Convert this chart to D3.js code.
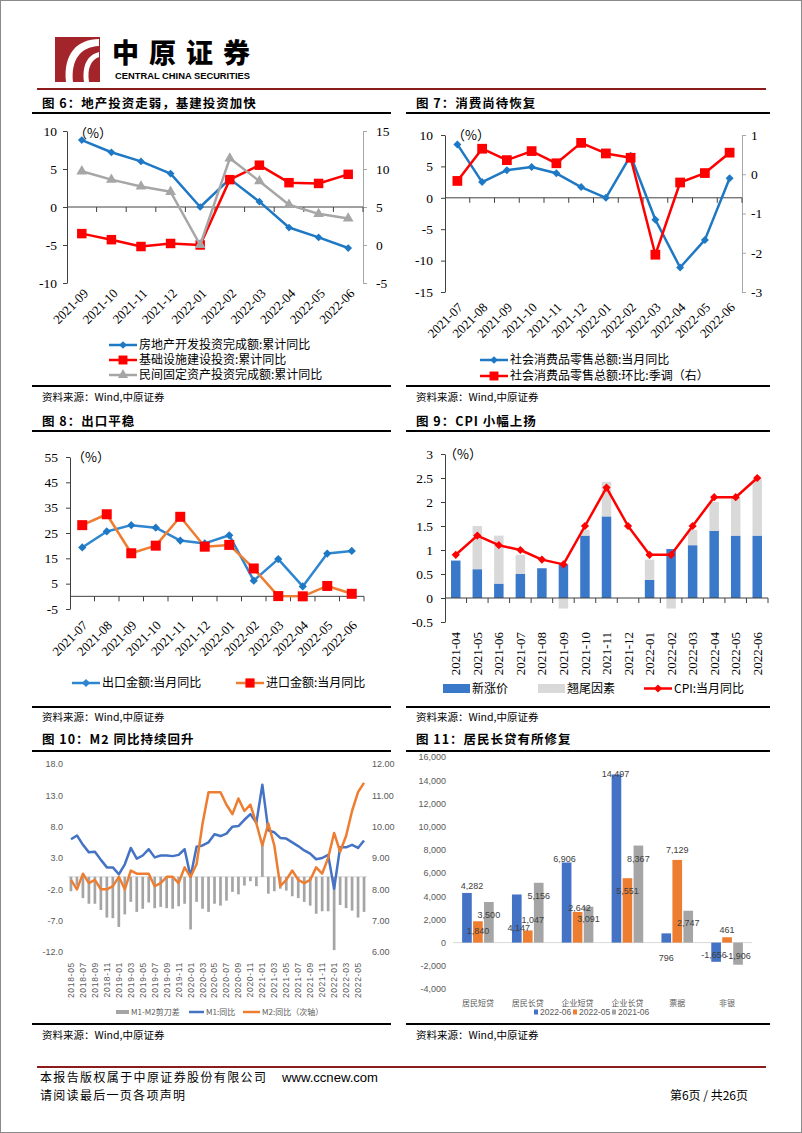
<!DOCTYPE html>
<html><head><meta charset="utf-8">
<script src="https://cdn.jsdelivr.net/npm/d3@7"></script>
<style>html,body{margin:0;padding:0;background:#fff}svg{display:block}</style>
</head><body>
<svg id="page" width="802" height="1133"></svg>
<script>
// ================= DATA =================
// Fig 6
const months6 = ["2021-09","2021-10","2021-11","2021-12","2022-01","2022-02","2022-03","2022-04","2022-05","2022-06"];
const realEstateInv = [8.8,7.2,6.0,4.4,0.0,3.7,0.7,-2.7,-4.0,-5.4];
const infraInv = [1.5,0.7,-0.2,0.2,0.0,8.6,10.5,8.2,8.1,9.3];
const privateInv = [9.7,8.6,7.7,7.0,0.0,11.4,8.4,5.3,4.1,3.5];
const ticks6L = [-10,-5,0,5,10];
const ticks6R = [-5,0,5,10,15];
const legend6 = ["房地产开发投资完成额:累计同比","基础设施建设投资:累计同比","民间固定资产投资完成额:累计同比"];
// Fig 7
const months7 = ["2021-07","2021-08","2021-09","2021-10","2021-11","2021-12","2022-01","2022-02","2022-03","2022-04","2022-05","2022-06"];
const retailYoy = [8.5,2.5,4.4,4.9,3.9,1.7,0.0,6.7,-3.5,-11.1,-6.7,3.1];
const retailMom = [-0.17,0.65,0.36,0.59,0.28,0.80,0.53,0.42,-2.05,-0.21,0.03,0.55];
const ticks7L = [-15,-10,-5,0,5,10];
const ticks7R = [-3,-2,-1,0,1];
const legend7 = ["社会消费品零售总额:当月同比","社会消费品零售总额:环比:季调（右）"];
// Fig 8
const months8 = ["2021-07","2021-08","2021-09","2021-10","2021-11","2021-12","2022-01","2022-02","2022-03","2022-04","2022-05","2022-06"];
const exportYoy = [19.3,25.6,28.1,27.1,22.0,20.9,24.1,6.2,14.7,3.9,16.9,17.9];
const importYoy = [28.1,32.4,17.0,20.0,31.4,19.6,20.3,11.0,0.1,0.0,4.1,1.0];
const ticks8 = [-5,5,15,25,35,45,55];
const legend8 = ["出口金额:当月同比","进口金额:当月同比"];
// Fig 9
const months9 = ["2021-04","2021-05","2021-06","2021-07","2021-08","2021-09","2021-10","2021-11","2021-12","2022-01","2022-02","2022-03","2022-04","2022-05","2022-06"];
const newPrice = [0.78,0.6,0.3,0.5,0.62,0.7,1.3,1.7,0,0.38,1.02,1.1,1.4,1.3,1.3];
const carryOver = [0,0.9,1.0,0.4,0,-0.22,0.12,0.72,0,0.42,-0.22,0.32,0.6,0.8,1.18];
const cpiYoy = [0.9,1.3,1.1,1.0,0.8,0.7,1.5,2.3,1.5,0.9,0.9,1.5,2.1,2.1,2.5];
const ticks9 = [-0.5,0,0.5,1,1.5,2,2.5,3];
const legend9 = ["新涨价","翘尾因素","CPI:当月同比"];
// Fig 10
const months10 = ["2018-05","2018-06","2018-07","2018-08","2018-09","2018-10","2018-11","2018-12",
 "2019-01","2019-02","2019-03","2019-04","2019-05","2019-06","2019-07","2019-08","2019-09","2019-10","2019-11","2019-12",
 "2020-01","2020-02","2020-03","2020-04","2020-05","2020-06","2020-07","2020-08","2020-09","2020-10","2020-11","2020-12",
 "2021-01","2021-02","2021-03","2021-04","2021-05","2021-06","2021-07","2021-08","2021-09","2021-10","2021-11","2021-12",
 "2022-01","2022-02","2022-03","2022-04","2022-05","2022-06"];
const m1Yoy = [6.0,6.6,5.1,3.9,4.0,2.7,1.5,1.5, 0.4,2.0,4.6,2.9,3.4,4.4,3.1,3.4,3.4,3.3,3.5,4.4,
 0.0,4.8,5.0,5.5,6.8,6.5,6.9,8.0,8.1,9.1,10.0,8.6, 14.7,7.4,7.1,6.2,6.1,5.5,4.9,4.2,3.7,2.8,3.0,3.5,
 -1.9,4.7,4.7,5.1,4.6,5.8];
const m2Yoy = [8.3,8.0,8.5,8.2,8.3,8.0,8.0,8.1, 8.4,8.0,8.6,8.5,8.5,8.5,8.1,8.2,8.4,8.4,8.2,8.7,
 8.4,8.8,10.1,11.1,11.1,11.1,10.7,10.4,10.9,10.5,10.7,10.1, 9.4,10.1,9.4,8.1,8.3,8.6,8.3,8.2,8.3,8.7,8.5,9.0,
 9.8,9.2,9.7,10.5,11.1,11.4];
const m1m2Gap = [-2.3,-1.4,-3.4,-4.3,-4.3,-5.3,-6.5,-6.6, -8.0,-6.0,-4.0,-5.6,-5.1,-4.1,-5.0,-4.8,-5.0,-5.1,-4.7,-4.3,
 -8.4,-4.0,-5.1,-5.6,-4.3,-4.6,-3.8,-2.4,-2.8,-1.4,-0.7,-1.5, 5.3,-2.7,-2.3,-1.9,-2.2,-3.1,-3.4,-4.0,-4.6,-5.9,-5.5,-5.5,
 -11.7,-4.5,-5.0,-5.4,-6.5,-5.6];
const ticks10L = [-12,-7,-2,3,8,13,18];
const ticks10R = [6,7,8,9,10,11,12];
const legend10 = ["M1-M2剪刀差","M1:同比","M2:同比（次轴）"];
// Fig 11
const groups11 = ["居民短贷","居民长贷","企业短贷","企业长贷","票据","非银"];
const series11 = ["2022-06","2022-05","2021-06"];
const loans2206 = [4282,4147,6906,14497,796,-1656];
const loans2205 = [1840,1047,2642,5551,7129,461];
const loans2106 = [3500,5156,3091,8367,2747,-1906];
const ticks11 = [-4000,-2000,0,2000,4000,6000,8000,10000,12000,14000,16000];

// ================= STYLE =================
const CJK = "'Noto Sans CJK SC','Noto Sans',sans-serif";
const SERIF = "'Liberation Serif','Times New Roman',serif";
const NARROW = "'Liberation Sans Narrow','Liberation Sans',Arial,sans-serif";
const BLUE = "#1e78c4", RED = "#ff0000", GREY = "#a6a6a6", ORANGE = "#ed7d31";
const XBLUE = "#4472c4", XORANGE = "#ed7d31", XGREY = "#a5a5a5", TXT = "#595959";
const loc = d3.formatLocale({decimal:".",thousands:",",grouping:[3],currency:["",""],minus:"-"});
const fmtInt = d => String(d);
const fmtComma = loc.format(",");
// label offsets for fig 11 (px), per series then group
const lblDy11 = [[-7,33,-4,-1,24,-7],[10,-11,-4,13,-10,-7],[13,13,12,13,12,-9]];
const lblDx11 = [[5,2,-2,-1,0,-2],[0,5,2,0,0,0],[0,0,0,0,0,0]];

const svg = d3.select("#page");
svg.append("rect").attr("x",0.5).attr("y",0.5).attr("width",801).attr("height",1132).attr("fill","#fff").attr("stroke","#8a8a8a");

// ---------- header ----------
const logo = svg.append("g");
logo.append("rect").attr("x",55).attr("y",37).attr("width",45).attr("height",45).attr("fill","#a3252b");
logo.append("path").attr("d","M99,39 C78,39 63,53 66,82 L73,82 C71,60 80,47 99,46 Z").attr("fill","#fff");
logo.append("path").attr("d","M99,52 C88,55 82,64 84,82 L89,82 C87,68 91,60 99,57 Z").attr("fill","#fff");
svg.append("text").attr("x",112).attr("y",63).text("中原证券").attr("font-family",CJK).attr("font-weight",900)
  .attr("font-size",27).attr("textLength",138).attr("lengthAdjust","spacing");
svg.append("text").attr("x",115).attr("y",78.5).text("CENTRAL CHINA SECURITIES").attr("font-family","'Liberation Sans',Arial")
  .attr("font-weight","bold").attr("font-size",8.3).attr("textLength",135).attr("lengthAdjust","spacingAndGlyphs");
svg.append("line").attr("x1",37).attr("x2",766).attr("y1",89).attr("y2",89).attr("stroke","#8b1c1c").attr("stroke-width",2);

// ---------- footer ----------
svg.append("line").attr("x1",37).attr("x2",766).attr("y1",1067).attr("y2",1067).attr("stroke","#8b1c1c").attr("stroke-width",2);
svg.append("text").attr("x",40).attr("y",1082).text("本报告版权属于中原证券股份有限公司").attr("font-family",CJK).attr("font-size",12).attr("textLength",226);
svg.append("text").attr("x",282).attr("y",1082).text("www.ccnew.com").attr("font-family","'Liberation Sans',Arial").attr("font-size",13).attr("textLength",96).attr("lengthAdjust","spacingAndGlyphs");
svg.append("text").attr("x",40).attr("y",1100).text("请阅读最后一页各项声明").attr("font-family",CJK).attr("font-size",12).attr("textLength",145);
svg.append("text").attr("x",748).attr("y",1100).attr("text-anchor","end").text("第6页 / 共26页").attr("font-family",CJK).attr("font-size",12);

// ---------- panel frames ----------
const cols = [[32,391],[406,770]];
const rows = [{title:107.5, top:113, bottom:386, src:401},{title:425.5, top:431, bottom:707, src:721},{title:744, top:751, bottom:1024, src:1039}];
const titles = [["图 6：地产投资走弱，基建投资加快","图 7：消费尚待恢复"],["图 8：出口平稳","图 9：CPI 小幅上扬"],["图 10：M2 同比持续回升","图 11：居民长贷有所修复"]];
rows.forEach((r,ri)=>{
  cols.forEach((c,ci)=>{
    svg.append("text").attr("x",c[0]+10).attr("y",r.title).text(titles[ri][ci]).attr("font-family",CJK)
      .attr("font-weight","bold").attr("font-size",12.5).attr("letter-spacing",1);
    svg.append("line").attr("x1",c[0]).attr("x2",c[1]).attr("y1",r.top).attr("y2",r.top).attr("stroke","#000").attr("stroke-width",2);
    svg.append("line").attr("x1",c[0]).attr("x2",c[1]).attr("y1",r.bottom).attr("y2",r.bottom).attr("stroke","#000").attr("stroke-width",2);
    svg.append("text").attr("x",c[0]+10).attr("y",r.src).text("资料来源：Wind,中原证券").attr("font-family",CJK).attr("font-size",10.5);
  });
});

// ---------- helpers ----------
function styleAxis(sel, color, font, size, fill){
  sel.select(".domain").attr("stroke",color);
  sel.selectAll(".tick line").attr("stroke",color);
  sel.selectAll(".tick text").attr("font-family",font).attr("font-size",size).attr("fill",fill||"#000");
}
function drawLine(g, xf, yf, vals, color, w){
  g.append("path").datum(vals).attr("fill","none").attr("stroke",color).attr("stroke-width",w)
    .attr("stroke-linejoin","round").attr("d", d3.line().x((d,i)=>xf(i)).y(d=>yf(d)));
}
function drawMarkers(g, xf, yf, vals, type, size, color, rot){
  g.selectAll(null).data(vals).join("path")
    .attr("transform",(d,i)=>`translate(${xf(i)},${yf(d)})${rot?" rotate(45)":""}`)
    .attr("d", d3.symbol().type(type).size(size)).attr("fill",color);
}
function boundaryTicks(g, xb, cats, y0, color){
  const pos = cats.slice(1).map(c=>xb(c)).concat([xb.range()[1]]);
  g.selectAll(null).data(pos).join("line").attr("x1",d=>d).attr("x2",d=>d).attr("y1",y0).attr("y2",y0+5).attr("stroke",color);
}
function rotLabels(g, cx, cats, yTop, dx, angle, font, size, fill, every){
  g.selectAll(null).data(cats.map((c,i)=>[c,i]).filter(d=>d[1]%(every||1)===0)).join("text")
    .attr("transform",d=>`translate(${cx(d[1])+dx},${yTop}) rotate(${angle})`)
    .attr("text-anchor","end").attr("dy","0.35em").text(d=>d[0])
    .attr("font-family",font).attr("font-size",size).attr("fill",fill||"#000");
}
function pctLabel(x,y){
  svg.append("text").attr("x",x).attr("y",y).attr("dy","0.35em").text("（%）").attr("font-family",CJK).attr("font-size",13);
}
function legendLine(g, x, y, color, sym, size, rot, label, w){
  g.append("line").attr("x1",x).attr("x2",x+28).attr("y1",y).attr("y2",y).attr("stroke",color).attr("stroke-width",w||2.5);
  g.append("path").attr("transform",`translate(${x+14},${y})${rot?" rotate(45)":""}`).attr("d",d3.symbol().type(sym).size(size)).attr("fill",color);
  g.append("text").attr("x",x+30).attr("y",y).attr("dy","0.36em").text(label).attr("font-family",CJK).attr("font-size",12);
}

// ================= FIG 6 =================
{
  const g = svg.append("g");
  const xb = d3.scaleBand(months6,[67,363]);
  const cx = i => xb(months6[i]) + xb.bandwidth()/2;
  const yL = d3.scaleLinear([-10,10],[283,131]);
  const yR = d3.scaleLinear([-5,15],[283,131]);
  g.append("g").attr("transform","translate(67,0)")
    .call(d3.axisLeft(yL).tickValues(ticks6L).tickFormat(fmtInt).tickSize(4).tickPadding(6).tickSizeOuter(0))
    .call(s=>styleAxis(s,"#404040",SERIF,13.5));
  g.append("g").attr("transform","translate(363,0)")
    .call(d3.axisRight(yR).tickValues(ticks6R).tickFormat(fmtInt).tickSize(4).tickPadding(9).tickSizeOuter(0))
    .call(s=>styleAxis(s,"#a6a6a6",SERIF,13.5));
  g.append("line").attr("x1",67).attr("x2",363).attr("y1",yL(0)).attr("y2",yL(0)).attr("stroke","#404040");
  boundaryTicks(g, xb, months6, yL(0), "#404040");
  drawLine(g, cx, yL, realEstateInv, BLUE, 2.5);
  drawMarkers(g, cx, yL, realEstateInv, d3.symbolSquare, 30, BLUE, true);
  drawLine(g, cx, yR, infraInv, RED, 2.5);
  drawMarkers(g, cx, yR, infraInv, d3.symbolSquare, 90, RED, false);
  drawLine(g, cx, yR, privateInv, GREY, 2.5);
  drawMarkers(g, cx, yR, privateInv, d3.symbolTriangle, 50, GREY, false);
  rotLabels(g, cx, months6, 291, 4, -45, SERIF, 13);
  pctLabel(74,133);
  legendLine(g, 109, 345, BLUE, d3.symbolSquare, 30, true, legend6[0]);
  legendLine(g, 109, 360, RED, d3.symbolSquare, 80, false, legend6[1]);
  legendLine(g, 109, 375, GREY, d3.symbolTriangle, 45, false, legend6[2]);
}

// ================= FIG 7 =================
{
  const g = svg.append("g");
  const xb = d3.scaleBand(months7,[445,742]);
  const cx = i => xb(months7[i]) + xb.bandwidth()/2;
  const yL = d3.scaleLinear([-15,10],[292,135]);
  const yR = d3.scaleLinear([-3,1],[292,135]);
  g.append("g").attr("transform","translate(445,0)")
    .call(d3.axisLeft(yL).tickValues(ticks7L).tickFormat(fmtInt).tickSize(4).tickPadding(8).tickSizeOuter(0))
    .call(s=>styleAxis(s,"#404040",SERIF,13.5));
  g.append("g").attr("transform","translate(742,0)")
    .call(d3.axisRight(yR).tickValues(ticks7R).tickFormat(fmtInt).tickSize(4).tickPadding(5).tickSizeOuter(0))
    .call(s=>styleAxis(s,"#a6a6a6",SERIF,13.5));
  g.append("line").attr("x1",445).attr("x2",742).attr("y1",yL(0)).attr("y2",yL(0)).attr("stroke","#404040");
  boundaryTicks(g, xb, months7, yL(0), "#404040");
  drawLine(g, cx, yL, retailYoy, BLUE, 2.5);
  drawMarkers(g, cx, yL, retailYoy, d3.symbolSquare, 32, BLUE, true);
  drawLine(g, cx, yR, retailMom, RED, 2.5);
  drawMarkers(g, cx, yR, retailMom, d3.symbolSquare, 95, RED, false);
  rotLabels(g, cx, months7, 305, 3, -45, SERIF, 13);
  pctLabel(452,135);
  legendLine(g, 480, 360, BLUE, d3.symbolSquare, 30, true, legend7[0]);
  legendLine(g, 480, 376, RED, d3.symbolSquare, 80, false, legend7[1]);
}

// ================= FIG 8 =================
{
  const g = svg.append("g");
  const xb = d3.scaleBand(months8,[70,364]);
  const cx = i => xb(months8[i]) + xb.bandwidth()/2;
  const y = d3.scaleLinear([-5,55],[609,457]);
  g.append("g").attr("transform","translate(70,0)")
    .call(d3.axisLeft(y).tickValues(ticks8).tickFormat(fmtInt).tickSize(4).tickPadding(8).tickSizeOuter(0))
    .call(s=>styleAxis(s,"#404040",SERIF,13.5));
  g.append("line").attr("x1",70).attr("x2",364).attr("y1",y(0)).attr("y2",y(0)).attr("stroke","#404040");
  boundaryTicks(g, xb, months8, y(0), "#404040");
  drawLine(g, cx, y, exportYoy, "#2e86d0", 2.5);
  drawMarkers(g, cx, y, exportYoy, d3.symbolSquare, 34, BLUE, true);
  drawLine(g, cx, y, importYoy, ORANGE, 2.5);
  drawMarkers(g, cx, y, importYoy, d3.symbolSquare, 100, RED, false);
  rotLabels(g, cx, months8, 623, 3, -45, SERIF, 13);
  pctLabel(72,457);
  legendLine(g, 72, 683, "#2e86d0", d3.symbolSquare, 34, true, legend8[0]);
  g.select("path:last-of-type");
  legendLine(g, 236, 683, ORANGE, d3.symbolSquare, 80, false, legend8[1]);
  g.append("path").attr("transform","translate(250,683)").attr("d",d3.symbol().type(d3.symbolSquare).size(80)).attr("fill",RED);
}

// ================= FIG 9 =================
{
  const g = svg.append("g");
  const xb = d3.scaleBand(months9,[445,768]).paddingInner(0.56).paddingOuter(0.28);
  const xs = d3.scaleBand(months9,[445,768]);
  const cx = i => xs(months9[i]) + xs.bandwidth()/2;
  const y = d3.scaleLinear([-0.5,3],[622,454]);
  const rowsData = months9.map((m,i)=>({m, n:newPrice[i], c:carryOver[i]}));
  const stack = d3.stack().keys(["n","c"]).offset(d3.stackOffsetDiverging)(rowsData);
  const fills = ["#3a78c9","#d9d9d9"];
  stack.forEach((layer,li)=>{
    g.selectAll(null).data(layer).join("rect")
      .attr("x",d=>xb(d.data.m)).attr("width",xb.bandwidth())
      .attr("y",d=>y(Math.max(d[0],d[1]))).attr("height",d=>Math.abs(y(d[0])-y(d[1])))
      .attr("fill",fills[li]);
  });
  g.append("g").attr("transform","translate(445,0)")
    .call(d3.axisLeft(y).tickValues(ticks9).tickFormat(fmtInt).tickSize(4).tickPadding(8).tickSizeOuter(0))
    .call(s=>styleAxis(s,"#404040",SERIF,13.5));
  g.append("line").attr("x1",445).attr("x2",768).attr("y1",y(0)).attr("y2",y(0)).attr("stroke","#404040");
  boundaryTicks(g, xs, months9, y(0), "#404040");
  drawLine(g, cx, y, cpiYoy, RED, 2.5);
  drawMarkers(g, cx, y, cpiYoy, d3.symbolSquare, 34, RED, true);
  rotLabels(g, cx, months9, 632, 0, -90, SERIF, 13);
  pctLabel(444,454);
  g.append("rect").attr("x",443).attr("y",684).attr("width",27).attr("height",9).attr("fill","#3a78c9");
  g.append("text").attr("x",472).attr("y",688.5).attr("dy","0.36em").text(legend9[0]).attr("font-family",CJK).attr("font-size",12);
  g.append("rect").attr("x",538).attr("y",684).attr("width",27).attr("height",9).attr("fill","#d9d9d9");
  g.append("text").attr("x",567).attr("y",688.5).attr("dy","0.36em").text(legend9[1]).attr("font-family",CJK).attr("font-size",12);
  g.append("line").attr("x1",644).attr("x2",672).attr("y1",688.5).attr("y2",688.5).attr("stroke",RED).attr("stroke-width",2.5);
  g.append("path").attr("transform","translate(658,688.5) rotate(45)").attr("d",d3.symbol().type(d3.symbolSquare).size(34)).attr("fill",RED);
  g.append("text").attr("x",674).attr("y",688.5).attr("dy","0.36em").text(legend9[2]).attr("font-family",CJK).attr("font-size",12);
}

// ================= FIG 10 =================
{
  const g = svg.append("g");
  const xb = d3.scaleBand(months10,[68,367]).paddingInner(0.55).paddingOuter(0.27);
  const xs = d3.scaleBand(months10,[68,367]);
  const cx = i => xs(months10[i]) + xs.bandwidth()/2;
  const yL = d3.scaleLinear([-12,18],[952,764]);
  const yR = d3.scaleLinear([6,12],[952,764]);
  g.append("g").attr("transform","translate(63,0)")
    .call(d3.axisLeft(yL).tickValues(ticks10L).tickFormat(d=>d.toFixed(1)).tickSize(0).tickPadding(0))
    .call(s=>{styleAxis(s,"none",NARROW,9,TXT); s.select(".domain").remove();});
  g.append("g").attr("transform","translate(372,0)")
    .call(d3.axisRight(yR).tickValues(ticks10R).tickFormat(d=>d.toFixed(2)).tickSize(0).tickPadding(0))
    .call(s=>{styleAxis(s,"none",NARROW,9,TXT); s.select(".domain").remove();});
  g.append("line").attr("x1",68).attr("x2",367).attr("y1",yL(0)).attr("y2",yL(0)).attr("stroke","#d9d9d9");
  g.selectAll(null).data(m1m2Gap).join("rect")
    .attr("x",(d,i)=>xb(months10[i])).attr("width",xb.bandwidth())
    .attr("y",d=>yL(Math.max(0,d))).attr("height",d=>Math.abs(yL(d)-yL(0))).attr("fill",XGREY);
  drawLine(g, cx, yL, m1Yoy, XBLUE, 2.5);
  drawLine(g, cx, yR, m2Yoy, XORANGE, 2.5);
  g.selectAll(null).data(months10.map((c,i)=>[c,i]).filter(d=>d[1]%2===0)).join("text")
    .attr("transform",d=>`translate(${cx(d[1])},962) rotate(-90)`)
    .attr("text-anchor","end").attr("dy","0.35em").text(d=>d[0])
    .attr("font-family",NARROW).attr("font-size",8.5).attr("letter-spacing",0.7).attr("fill",TXT);
  const ly = 1012;
  g.append("rect").attr("x",116).attr("y",ly-2).attr("width",13).attr("height",4).attr("fill",XGREY);
  g.append("text").attr("x",131).attr("y",ly).attr("dy","0.35em").text(legend10[0]).attr("font-family",CJK).attr("font-size",8).attr("fill",TXT);
  g.append("line").attr("x1",189).attr("x2",204).attr("y1",ly).attr("y2",ly).attr("stroke",XBLUE).attr("stroke-width",2.5);
  g.append("text").attr("x",206).attr("y",ly).attr("dy","0.35em").text(legend10[1]).attr("font-family",CJK).attr("font-size",8).attr("fill",TXT);
  g.append("line").attr("x1",243).attr("x2",260).attr("y1",ly).attr("y2",ly).attr("stroke",XORANGE).attr("stroke-width",2.5);
  g.append("text").attr("x",262).attr("y",ly).attr("dy","0.35em").text(legend10[2]).attr("font-family",CJK).attr("font-size",8).attr("fill",TXT);
}

// ================= FIG 11 =================
{
  const g = svg.append("g");
  const x0 = d3.scaleBand(groups11,[453,752]).paddingInner(0.366).paddingOuter(0.183);
  const x1 = d3.scaleBand(series11,[0,x0.bandwidth()]).paddingInner(0.12);
  const y = d3.scaleLinear([-4000,16000],[989,757]);
  const vals = [loans2206, loans2205, loans2106];
  const cols11 = [XBLUE, XORANGE, XGREY];
  g.append("g").attr("transform","translate(446,0)")
    .call(d3.axisLeft(y).tickValues(ticks11).tickFormat(fmtComma).tickSize(0).tickPadding(0))
    .call(s=>{styleAxis(s,"none",NARROW,9,TXT); s.select(".domain").remove();});
  g.append("line").attr("x1",453).attr("x2",752).attr("y1",y(0)).attr("y2",y(0)).attr("stroke","#d9d9d9");
  series11.forEach((s,si)=>{
    g.selectAll(null).data(vals[si]).join("rect")
      .attr("x",(d,i)=>x0(groups11[i])+x1(s)).attr("width",x1.bandwidth())
      .attr("y",d=>y(Math.max(0,d))).attr("height",d=>Math.abs(y(d)-y(0))).attr("fill",cols11[si]);
  });
  series11.forEach((s,si)=>{
    g.selectAll(null).data(vals[si]).join("text")
      .attr("x",(d,i)=>x0(groups11[i])+x1(s)+x1.bandwidth()/2+lblDx11[si][i])
      .attr("y",(d,i)=>y(d)+lblDy11[si][i]).attr("dy","0.35em").attr("text-anchor","middle")
      .text(d=>fmtComma(d)).attr("font-family",NARROW).attr("font-size",9).attr("fill","#404040");
  });
  g.selectAll(null).data(groups11).join("text")
    .attr("x",d=>x0(d)+x0.bandwidth()/2).attr("y",1003).attr("dy","0.35em").attr("text-anchor","middle")
    .text(d=>d).attr("font-family",CJK).attr("font-size",8).attr("fill",TXT);
  const lx = [534,573,612];
  series11.forEach((s,si)=>{
    g.append("rect").attr("x",lx[si]).attr("y",1009.5).attr("width",4).attr("height",5).attr("fill",cols11[si]);
    g.append("text").attr("x",lx[si]+6).attr("y",1012).attr("dy","0.35em").text(s)
      .attr("font-family",NARROW).attr("font-size",8.5).attr("fill",TXT);
  });
}
</script>
</body></html>
